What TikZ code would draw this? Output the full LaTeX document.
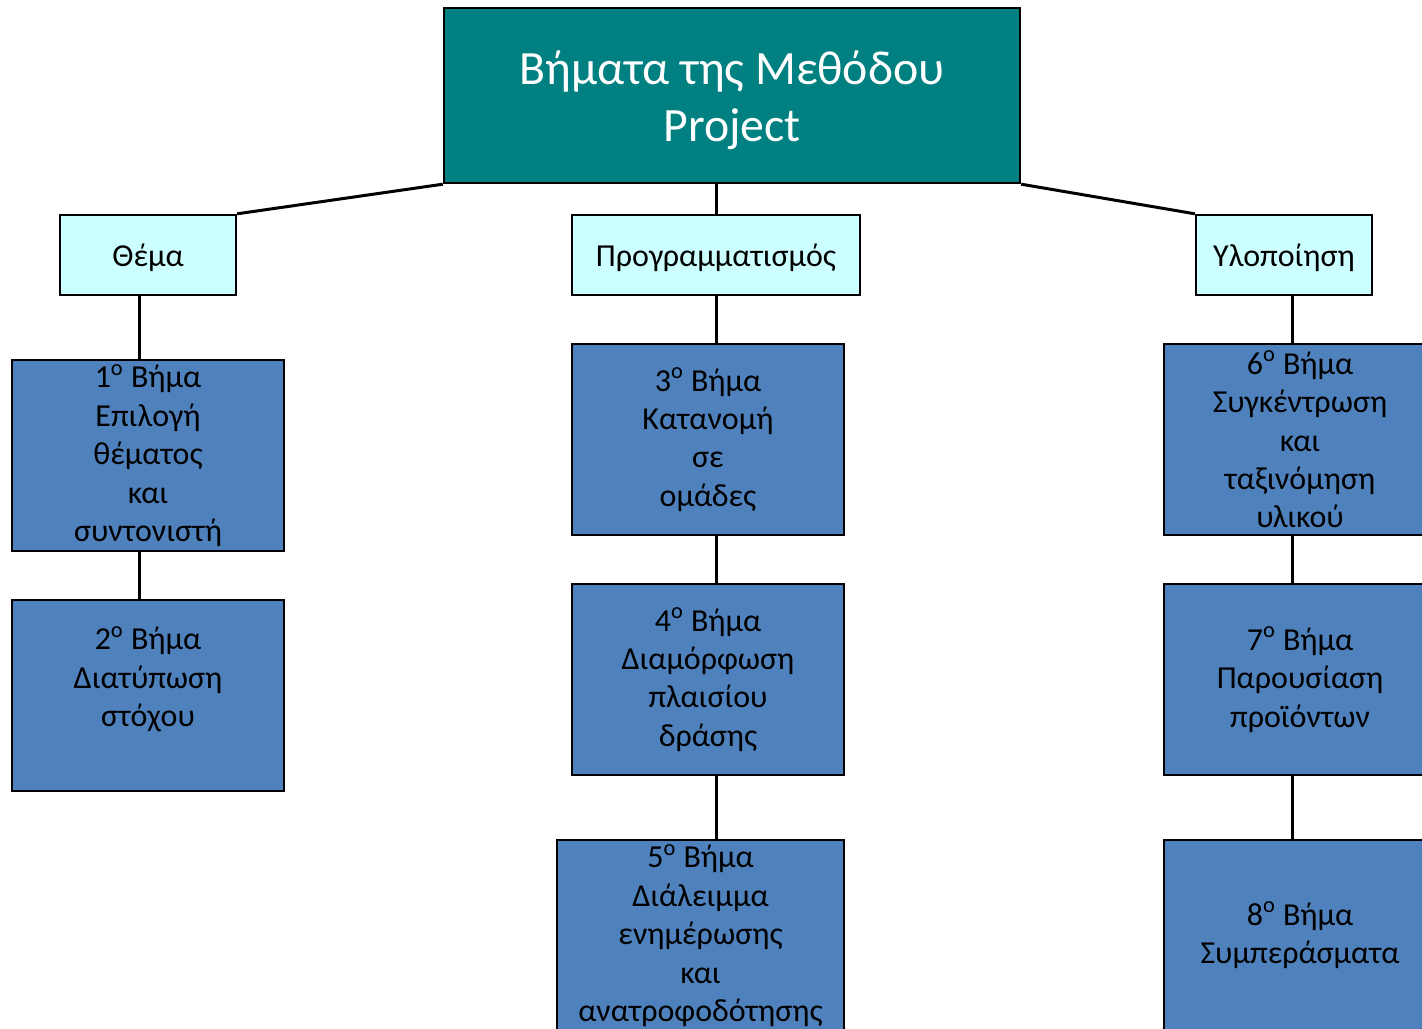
\documentclass[tikz,border=0pt]{standalone}
\usepackage{fontspec}
\setmainfont{Carlito}
\definecolor{headteal}{HTML}{008080}
\definecolor{topiccyan}{HTML}{CCFFFF}
\definecolor{stepblue}{HTML}{4F81BD}
\newcommand{\bima}[1]{#1\textsuperscript{ο} Βήμα}
\begin{document}
\begin{tikzpicture}[x=0.5pt,y=-0.5pt,line width=1.2pt,
    head/.style ={draw, fill=headteal, text=white, align=center, inner sep=0pt,
                  minimum width=288pt, minimum height=87.5pt, font=\fontsize{23.9}{28.5}\selectfont},
    topic/.style ={draw, fill=topiccyan, align=center, inner sep=0pt,
                  minimum width=88pt, minimum height=40pt, font=\fontsize{16}{19.2}\selectfont,
                  execute at begin node={\rule{0pt}{14.5pt}}},
    stepbox/.style ={draw, fill=stepblue, align=center, inner sep=0pt,
                  minimum width=136pt, minimum height=95.5pt, font=\fontsize{16}{19.2}\selectfont},
    link/.style ={line width=1.5pt}]
          \useasboundingbox (0,0) rectangle (1422,1028);
          \clip (0,0) rectangle (1422,1028);
          \node[head] (top) at (732,95.5)
            {\raisebox{0pt}[\dimexpr\height+6pt\relax][\depth]{\begin{tabular}{@{}c@{}}Βήματα της Μεθόδου\\Project\end{tabular}}};
          \node[topic] (thema) at (148,255) {Θέμα};
          \node[topic, minimum width=144pt] (prog) at (716,255) {Προγραμματισμός};
          \node[topic] (ylop) at (1284,255) {Υλοποίηση};
          \node[stepbox] (b1) at (148,455.5) {\bima{1}\\Επιλογή\\θέματος\\και\\συντονιστή};
          \node[stepbox] (b2) at (148,695.5) {\bima{2}\\Διατύπωση\\στόχου\\\mbox{}};
          \node[stepbox] (b3) at (708,439.5) {\bima{3}\\Κατανομή\\σε\\ομάδες};
          \node[stepbox] (b4) at (708,679.5) {\bima{4}\\Διαμόρφωση\\πλαισίου\\δράσης};
          \node[stepbox, minimum width=143.5pt] (b5) at (700.5,935.5) {\bima{5}\\Διάλειμμα\\ενημέρωσης\\και\\ανατροφοδότησης};
          \node[stepbox] (b6) at (1300,439.5) {\bima{6}\\Συγκέντρωση\\και\\ταξινόμηση\\υλικού};
          \node[stepbox] (b7) at (1300,679.5) {\bima{7}\\Παρουσίαση\\προϊόντων};
          \node[stepbox] (b8) at (1300,935.5) {\bima{8}\\Συμπεράσματα};
          \coordinate (tc) at ([xshift=-4.5pt]thema.south);
          \coordinate (yc) at ([xshift=4pt]ylop.south);
          \draw[link] (top.south west) -- (thema.north east);
          \draw[link] (prog.north |- top.south) -- (prog.north);
          \draw[link] (top.south east) -- (ylop.north west);
          \draw[link] (tc) -- (tc |- b1.north);
          \draw[link] (tc |- b1.south) -- (tc |- b2.north);
          \draw[link] (prog.south) -- (prog.south |- b3.north);
          \draw[link] (prog.south |- b3.south) -- (prog.south |- b4.north);
          \draw[link] (prog.south |- b4.south) -- (prog.south |- b5.north);
          \draw[link] (yc) -- (yc |- b6.north);
          \draw[link] (yc |- b6.south) -- (yc |- b7.north);
          \draw[link] (yc |- b7.south) -- (yc |- b8.north);
\end{tikzpicture}
\end{document}
